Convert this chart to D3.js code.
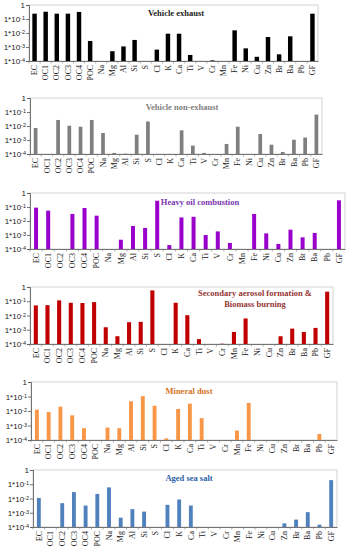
<!DOCTYPE html>
<html>
<head>
    <style>
        body { margin: 0; background: #fff; }
        svg { display: block; font-family: 'Liberation Serif', 'DejaVu Serif', serif; }
    </style>
</head>
<body>
    <div id="chart"></div>
    <script src="https://cdnjs.cloudflare.com/ajax/libs/d3/7.8.5/d3.min.js"></script>
    <script>
        // species on the x axis
        const species = ["EC", "OC1", "OC2", "OC3", "OC4", "POC", "Na", "Mg", "Al", "Si", "S", "Cl", "K", "Ca",
            "Ti", "V", "Cr", "Mn", "Fe", "Ni", "Cu", "Zn", "Br", "Ba", "Pb", "GF"];

        // y ticks (log scale)
        const yTicks = [1, 1e-1, 1e-2, 1e-3, 1e-4];

        // factor profiles (null = no bar)
        const vehicleExhaust = [0.24, 0.33, 0.24, 0.24, 0.32, 0.0027, null, 5e-4, 1.1e-3, 3.2e-3, null, 6.5e-4, 8.9e-3, 8.9e-3,
            2.7e-4, null, 1.1e-4, null, 0.0155, 8e-4, 2e-4, 5.2e-3, 3e-4, 5.8e-3, null, 0.24];
        const vehicleNonExhaust = [7.2e-3, null, 0.027, 0.0105, 8.9e-3, 0.027, 3.2e-3, 1.2e-4, 1.05e-4, 2.4e-3, 0.021, null, null, 4.9e-3,
            4e-4, 1.2e-4, null, 5.2e-4, 8.9e-3, null, 2.7e-3, 4.6e-4, 1.4e-4, 1.05e-3, 1.5e-3, 0.065];
        const heavyOil = [0.09, 0.055, null, 0.032, 0.085, 0.024, null, 4.6e-4, 4.4e-3, 3.2e-3, 0.28, 1.9e-4, 0.018, 0.02,
            1e-3, 1.8e-3, 2.7e-4, null, 0.032, 1.3e-3, 2.3e-4, 2.4e-3, 6.8e-4, 1.4e-3, null, 0.3];
        const secondaryBiomass = [0.051, 0.053, 0.115, 0.078, 0.075, 0.087, 1.5e-3, 3.5e-4, 3.4e-3, 3.6e-3, 0.58, null, 0.078, 0.0105,
            2.2e-4, null, 1.05e-4, 7e-4, 6.2e-3, null, null, 3.5e-4, 1.2e-3, 7e-4, 1.35e-3, 0.47];
        const mineralDust = [0.0124, 8.5e-3, 0.02, 5e-3, 6.5e-4, null, 7.2e-4, 6.5e-4, 0.047, 0.105, 0.023, 1.3e-4, 0.0138, 0.032,
            3.2e-3, null, null, 4.5e-4, 0.036, null, null, null, null, null, 2.6e-4, null];
        const agedSeaSalt = [0.011, null, 4.7e-3, 0.028, 3.2e-3, 0.021, 0.06, 4.5e-4, 1.8e-3, 1.2e-3, null, 3.6e-3, 8.5e-3, 3.2e-3,
            null, null, null, null, null, null, null, 1.8e-4, 3.3e-4, 1.1e-3, 1.45e-4, 0.195];

        const panels = [
            { title: ["Vehicle exhaust"], values: vehicleExhaust, color: "#000000", titleColor: "#222222",
              box: [29, 318, 5, 61], titleAt: [176, 16], bar: 0.4 },
            { title: ["Vehicle non-exhaust"], values: vehicleNonExhaust, color: "#7f7f7f", titleColor: "#7f7f7f",
              box: [30, 322, 98, 154], titleAt: [182, 110], bar: 0.33 },
            { title: ["Heavy oil combustion"], values: heavyOil, color: "#9900cc", titleColor: "#7a35b0",
              box: [30, 345, 193, 249], titleAt: [200, 205], bar: 0.33 },
            { title: ["Secondary aerosol formation &", "Biomass burning"], values: secondaryBiomass, color: "#c00000",
              titleColor: "#953735", box: [30, 333, 287, 344], titleAt: [255, 296], bar: 0.35 },
            { title: ["Mineral dust"], values: mineralDust, color: "#f79646", titleColor: "#d9731f",
              box: [31, 337, 382, 440], titleAt: [189, 394], bar: 0.33 },
            { title: ["Aged sea salt"], values: agedSeaSalt, color: "#4f81bd", titleColor: "#2e64a8",
              box: [33, 337, 470, 527], titleAt: [189, 481], bar: 0.33 }
        ];

        const width = 346, height = 550;

        const svg = d3.select("#chart").append("svg")
            .attr("width", width)
            .attr("height", height);

        panels.forEach(p => {
            const [x0, x1, y0, y1] = p.box;
            const g = svg.append("g");

            const x = d3.scaleBand().domain(species).range([x0, x1]).paddingInner(1 - p.bar).paddingOuter((1 - p.bar) / 2);
            const y = d3.scaleLog().domain([1e-4, 1]).range([y1, y0]);

            // plot area frame
            g.append("rect")
                .attr("x", x0).attr("y", y0)
                .attr("width", x1 - x0).attr("height", y1 - y0)
                .attr("fill", "none")
                .attr("stroke", "#c8c8c8")
                .attr("stroke-width", 0.8);

            // bars
            g.selectAll("rect.bar")
                .data(species.map((s, i) => ({ s, v: p.values[i] })).filter(d => d.v != null))
                .join("rect")
                .attr("class", "bar")
                .attr("x", d => x(d.s))
                .attr("width", x.bandwidth())
                .attr("y", d => y(d.v))
                .attr("height", d => y1 - y(d.v))
                .attr("fill", p.color);

            // left axis
            const yAxis = g.append("g")
                .attr("transform", `translate(${x0},0)`)
                .call(d3.axisLeft(y).tickValues(yTicks).tickSize(3).tickFormat(""));
            yAxis.select(".domain").attr("stroke", "#555").attr("stroke-width", 0.8);
            yAxis.selectAll(".tick line").attr("stroke", "#555").attr("stroke-width", 0.8);

            yAxis.selectAll(".tick").append("text")
                .attr("x", -4)
                .attr("dy", "0.32em")
                .attr("text-anchor", "end")
                .attr("fill", "#222")
                .style("font-size", "8px")
                .each(function (d) {
                    const t = d3.select(this);
                    if (d === 1) { t.text("1"); return; }
                    t.append("tspan").text("1*10");
                    t.append("tspan").attr("dy", "-0.35em").style("font-size", "5.5px")
                        .text(String(Math.round(Math.log10(d))));
                });

            // bottom axis with ticks between categories
            const xAxis = g.append("g")
                .attr("transform", `translate(0,${y1})`)
                .call(d3.axisBottom(x).tickSize(0).tickFormat(""));
            xAxis.select(".domain").attr("stroke", "#555").attr("stroke-width", 0.8);

            g.selectAll("line.sep")
                .data(species)
                .join("line")
                .attr("class", "sep")
                .attr("x1", d => x(d) - x.step() * x.paddingInner() / 2)
                .attr("x2", d => x(d) - x.step() * x.paddingInner() / 2)
                .attr("y1", y1).attr("y2", y1 + 2.5)
                .attr("stroke", "#777").attr("stroke-width", 0.6);

            g.selectAll("text.cat")
                .data(species)
                .join("text")
                .attr("class", "cat")
                .attr("transform", d => `translate(${x(d) + x.bandwidth() / 2 + 2.7},${y1 + 4}) rotate(-90)`)
                .attr("text-anchor", "end")
                .attr("fill", "#222")
                .style("font-size", "8px")
                .text(d => d);

            // title
            g.append("text")
                .attr("x", p.titleAt[0])
                .attr("y", p.titleAt[1])
                .attr("text-anchor", "middle")
                .attr("fill", p.titleColor)
                .style("font-size", "8.5px")
                .style("font-weight", "bold")
                .selectAll("tspan")
                .data(p.title)
                .join("tspan")
                .attr("x", p.titleAt[0])
                .attr("dy", (d, i) => i === 0 ? 0 : "1.35em")
                .text(d => d);
        });
    </script>
</body>
</html>
